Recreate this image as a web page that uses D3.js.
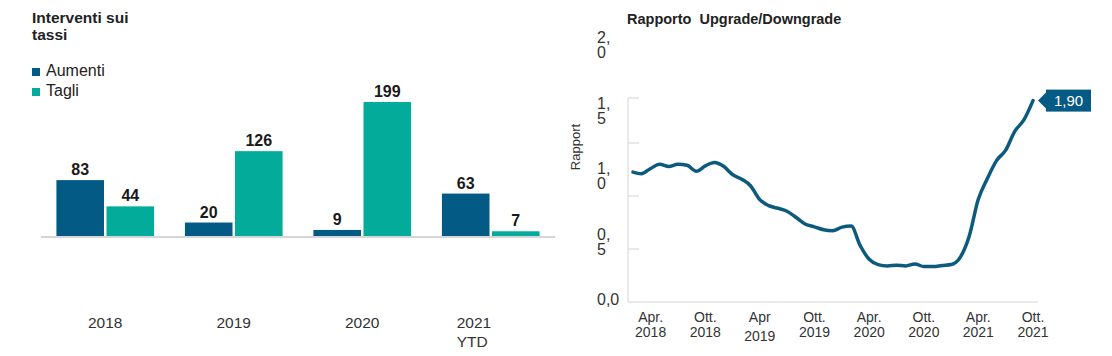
<!DOCTYPE html>
<html><head><meta charset="utf-8">
<script src="https://cdn.jsdelivr.net/npm/d3@7/dist/d3.min.js"></script>
<style>
html,body{margin:0;padding:0;background:#fff;}
svg{display:block;font-family:"Liberation Sans",Arial,sans-serif;}
</style></head>
<body>
<svg id="c" width="1112" height="356"></svg>
<script>
// ---- Left chart data ----
const years = ["2018", "2019", "2020", "2021\nYTD"];
const seriesNames = ["Aumenti", "Tagli"];
const aumenti = [83, 20, 9, 63];
const tagli = [44, 126, 199, 7];
const barColors = ["#035a85", "#03ab9b"];

// ---- Right chart data ----
const ratioStart = new Date(2018, 1, 1); // Feb 2018, monthly
const ratio = [1.225, 1.21, 1.26, 1.30, 1.278, 1.30, 1.29, 1.234, 1.284, 1.316,
  1.28, 1.20, 1.156, 1.097, 0.966, 0.909, 0.884, 0.856, 0.797, 0.734,
  0.709, 0.681, 0.672, 0.706, 0.716, 0.5375, 0.403, 0.353, 0.34, 0.347,
  0.34, 0.359, 0.334, 0.334, 0.344, 0.353, 0.428, 0.616, 0.969, 1.1625,
  1.334, 1.43, 1.61, 1.72, 1.90];
const ratioTicks = [0, 0.5, 1.0, 1.5, 2.0];
const ratioTickLabels = ["0,0", "0,\n5", "1,\n0", "1,\n5", "2,\n0"];
const xTickDates = [new Date(2018,3,1), new Date(2018,9,1), new Date(2019,3,1), new Date(2019,9,1),
  new Date(2020,3,1), new Date(2020,9,1), new Date(2021,3,1), new Date(2021,9,1)];
const xTickLabels = ["Apr.\n2018", "Ott.\n2018", "Apr\n2019", "Ott.\n2019", "Apr.\n2020", "Ott.\n2020", "Apr.\n2021", "Ott.\n2021"];
const lastLabel = "1,90";

const svg = d3.select("#c");
const textCol = "#222";

// ================= LEFT =================
const L = svg.append("g");
L.append("text").attr("x", 32).attr("y", 23).attr("font-size", 15.5).attr("font-weight", "bold").attr("fill", textCol).text("Interventi sui");
L.append("text").attr("x", 32).attr("y", 40).attr("font-size", 15.5).attr("font-weight", "bold").attr("fill", textCol).text("tassi");

seriesNames.forEach((n, i) => {
  L.append("rect").attr("x", 32).attr("y", 68 + i * 20).attr("width", 8).attr("height", 8).attr("fill", barColors[i]);
  L.append("text").attr("x", 46).attr("y", 76 + i * 20).attr("font-size", 16).attr("fill", textCol).text(n);
});

const x0 = d3.scaleBand().domain(years).range([41, 555]).paddingInner(0.24).paddingOuter(0.12);
const x1 = d3.scaleBand().domain(seriesNames).range([0, x0.bandwidth()]).paddingInner(0.05);
const yL = d3.scaleLinear().domain([0, 199]).range([236, 102]);

const rows = years.map((y, i) => ({ year: y, vals: [aumenti[i], tagli[i]] }));
const grp = L.selectAll("g.grp").data(rows).join("g").attr("class", "grp")
  .attr("transform", d => `translate(${x0(d.year)},0)`);
grp.selectAll("rect").data(d => d.vals.map((v, i) => ({ v, s: seriesNames[i], i })))
  .join("rect")
  .attr("x", d => x1(d.s)).attr("width", x1.bandwidth())
  .attr("y", d => yL(d.v)).attr("height", d => yL(0) - yL(d.v))
  .attr("fill", d => barColors[d.i]);
grp.selectAll("text.val").data(d => d.vals.map((v, i) => ({ v, s: seriesNames[i] })))
  .join("text").attr("class", "val")
  .attr("x", d => x1(d.s) + x1.bandwidth() / 2).attr("y", d => yL(d.v) - 5)
  .attr("text-anchor", "middle").attr("font-size", 16).attr("font-weight", "bold").attr("fill", "#1a1a1a")
  .text(d => d.v);

L.append("line").attr("x1", 41).attr("x2", 555).attr("y1", yL(0) + 1).attr("y2", yL(0) + 1)
  .attr("stroke", "#d6d6d6").attr("stroke-width", 2);

rows.forEach(r => {
  const lines = r.year.split("\n");
  const cx = x0(r.year) + x0.bandwidth() / 2;
  const t = L.append("text").attr("font-size", 15.5).attr("fill", "#333")
    .attr("text-anchor", lines.length > 1 ? "start" : "middle");
  lines.forEach((ln, k) => {
    t.append("tspan").attr("x", lines.length > 1 ? cx - 34 : cx).attr("y", 328 + k * 19).text(ln);
  });
});

// ================= RIGHT =================
const R = svg.append("g");
R.append("text").attr("x", 627).attr("y", 24).attr("font-size", 14.5).attr("font-weight", "bold")
  .attr("fill", textCol).attr("xml:space", "preserve").text("Rapporto  Upgrade/Downgrade");

const dates = ratio.map((v, i) => d3.timeMonth.offset(ratioStart, i));
const xR = d3.scaleTime().domain([dates[0], dates[dates.length - 1]]).range([633, 1033]);
const yR = d3.scaleLinear().domain([0, 2]).range([302, 90]);
const yLab = d3.scaleLinear().domain([0, 2]).range([305, 43]);
const axisX = 628, axisTop = 98, axisRight = 1038;

// axes
R.append("line").attr("x1", axisX).attr("x2", axisX).attr("y1", axisTop).attr("y2", yR(0)).attr("stroke", "#d4d4d4");
R.append("line").attr("x1", axisX).attr("x2", axisRight).attr("y1", yR(0)).attr("y2", yR(0)).attr("stroke", "#d4d4d4");
R.append("line").attr("x1", axisX).attr("x2", axisX + 11).attr("y1", axisTop).attr("y2", axisTop).attr("stroke", "#d4d4d4");
R.selectAll("line.tk").data(ratioTicks.filter(v => v > 0 && v < 2)).join("line").attr("class", "tk")
  .attr("x1", axisX).attr("x2", axisX + 11).attr("y1", d => yR(d)).attr("y2", d => yR(d)).attr("stroke", "#d4d4d4");

ratioTicks.forEach((v, i) => {
  const lines = ratioTickLabels[i].split("\n");
  const t = R.append("text").attr("font-size", 16).attr("fill", "#333");
  lines.forEach((ln, k) => t.append("tspan").attr("x", 597).attr("y", yLab(v) + k * 15).text(ln));
});

R.append("text").attr("transform", "translate(580,147) rotate(-90)").attr("text-anchor", "middle")
  .attr("font-size", 13).attr("fill", "#333").text("Rapport");

xTickDates.forEach((d, i) => {
  const lines = xTickLabels[i].split("\n");
  const t = R.append("text").attr("font-size", 14).attr("fill", "#333").attr("text-anchor", "middle");
  lines.forEach((ln, k) => t.append("tspan").attr("x", xR(d)).attr("y", 322 + k * 15 + (lines[0] === "Apr" && k === 1 ? 4 : 0)).text(ln));
});

const line = d3.line().x((v, i) => xR(dates[i])).y(v => yR(v)).curve(d3.curveMonotoneX);
R.append("path").datum(ratio).attr("d", line).attr("fill", "none").attr("stroke", "#0c5a7e")
  .attr("stroke-width", 3.5).attr("stroke-linejoin", "round").attr("stroke-linecap", "round");

// end label
const ex = xR(dates[dates.length - 1]), ey = yR(ratio[ratio.length - 1]);
const bx = ex + 13, bw = 45, bh = 22;
R.append("path").attr("d", `M${ex + 5},${ey} L${bx},${ey - 8} L${bx},${ey + 8} Z`).attr("fill", "#035a85");
R.append("rect").attr("x", bx).attr("y", ey - bh / 2).attr("width", bw).attr("height", bh).attr("fill", "#035a85");
R.append("text").attr("x", bx + bw / 2).attr("y", ey + 5.5).attr("text-anchor", "middle")
  .attr("font-size", 15).attr("fill", "#fff").text(lastLabel);
</script>
</body></html>
